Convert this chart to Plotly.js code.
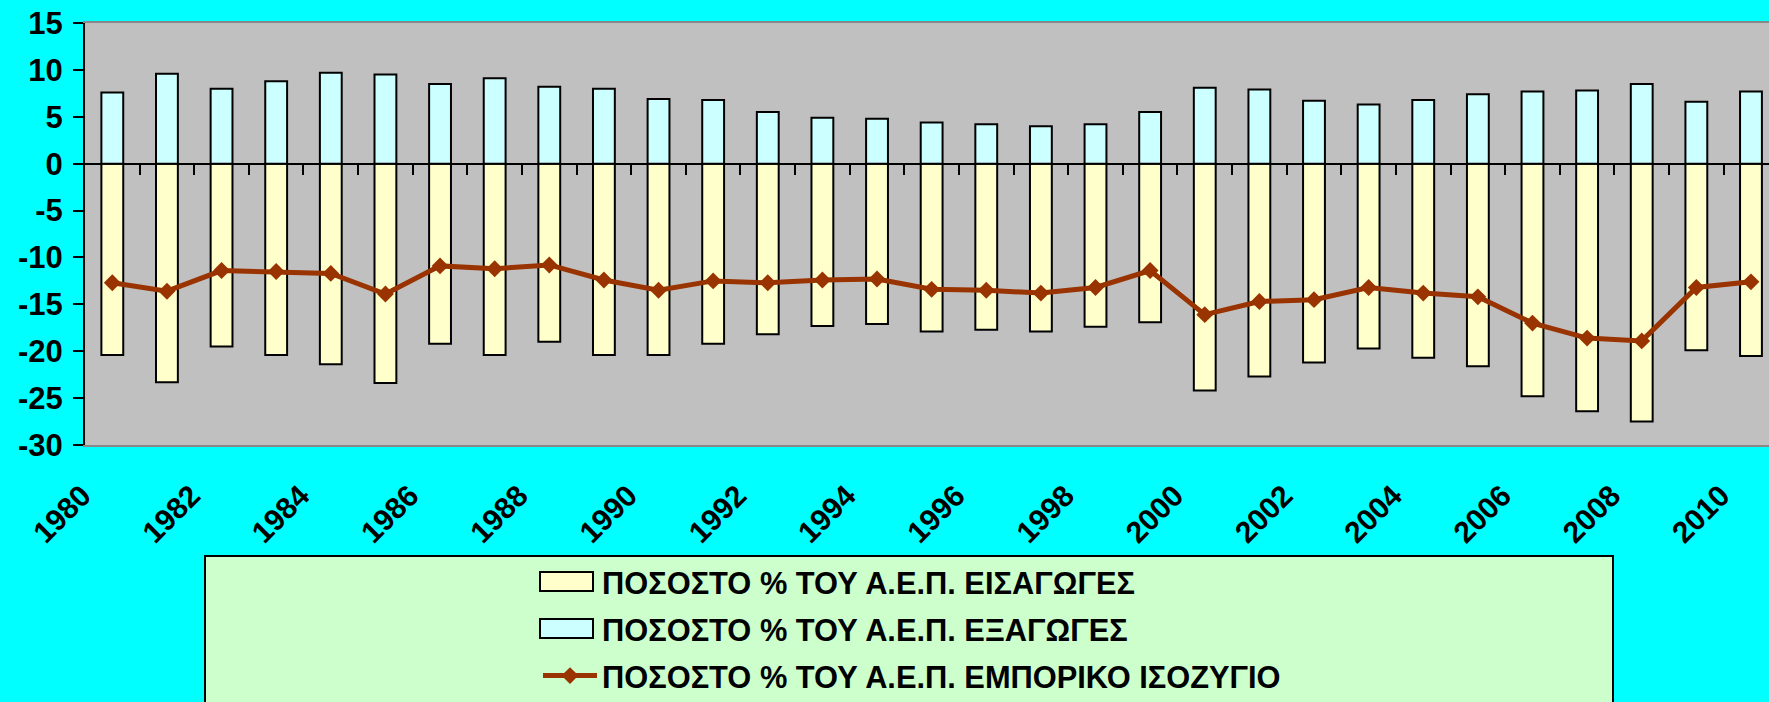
<!DOCTYPE html>
<html>
<head>
<meta charset="utf-8">
<script src="https://cdn.plot.ly/plotly-3.0.1.min.js"></script>
<style>
  html, body { margin: 0; padding: 0; overflow: hidden; background: #00FFFF; }
  #chart { width: 1769px; height: 702px; }
</style>
</head>
<body>
<div id="chart"></div>
<script>
// ---- data ----
const years = [1980,1981,1982,1983,1984,1985,1986,1987,1988,1989,
               1990,1991,1992,1993,1994,1995,1996,1997,1998,1999,
               2000,2001,2002,2003,2004,2005,2006,2007,2008,2009,2010];

const importsPct = [-20.4,-23.3,-19.5,-20.4,-21.4,-23.4,-19.2,-20.4,-19.0,-20.4,
                    -20.4,-19.2,-18.2,-17.3,-17.1,-17.9,-17.7,-17.9,-17.4,-16.9,
                    -24.2,-22.7,-21.2,-19.7,-20.7,-21.6,-24.8,-26.4,-27.5,-19.9,-20.5];

const exportsPct = [7.6,9.6,8.0,8.8,9.7,9.5,8.5,9.1,8.2,8.0,
                    6.9,6.8,5.5,4.9,4.8,4.4,4.2,4.0,4.2,5.5,
                    8.1,7.9,6.7,6.3,6.8,7.4,7.7,7.8,8.5,6.6,7.7];

const balancePct = [-12.7,-13.6,-11.4,-11.5,-11.7,-13.9,-10.9,-11.2,-10.8,-12.4,
                    -13.5,-12.5,-12.7,-12.4,-12.3,-13.4,-13.5,-13.8,-13.2,-11.4,
                    -16.1,-14.7,-14.5,-13.2,-13.8,-14.2,-17.0,-18.6,-18.9,-13.2,-12.6];

const xTickLabels = ['1980','1982','1984','1986','1988','1990','1992','1994',
                     '1996','1998','2000','2002','2004','2006','2008','2010'];

const yTickLabels = ['-30','-25','-20','-15','-10','-5','0','5','10','15'];

const seriesNames = ['ΠΟΣΟΣΤΟ % ΤΟΥ Α.Ε.Π. ΕΙΣΑΓΩΓΕΣ',
                     'ΠΟΣΟΣΤΟ % ΤΟΥ Α.Ε.Π. ΕΞΑΓΩΓΕΣ',
                     'ΠΟΣΟΣΤΟ % ΤΟΥ Α.Ε.Π. ΕΜΠΟΡΙΚΟ ΙΣΟΖΥΓΙΟ'];

// ---- styling ----
const FONT = 'Arial, "Liberation Sans", sans-serif';
const xRange = [1979.5, 2010.33];
const boundaries = years.slice(0, -1).map(y => y + 0.5);

const traces = [
  {
    type: 'bar', x: years, y: importsPct, name: seriesNames[0],
    width: 0.4, legendgroup: 'g1',
    marker: { color: '#FFFFCC', line: { color: '#000000', width: 2 } },
    hoverinfo: 'x+y'
  },
  {
    type: 'bar', x: years, y: exportsPct, name: seriesNames[1],
    width: 0.4, legendgroup: 'g2',
    marker: { color: '#CCFFFF', line: { color: '#000000', width: 2 } },
    hoverinfo: 'x+y'
  },
  {
    type: 'scatter', mode: 'lines+markers', x: years, y: balancePct,
    name: seriesNames[2], xaxis: 'x2', yaxis: 'y', legendgroup: 'g3',
    line: { color: '#993300', width: 5 },
    marker: { symbol: 'diamond', size: 13, color: '#993300' },
    hoverinfo: 'x+y'
  }
];

const layout = {
  width: 1769, height: 702,
  margin: { l: 85, r: 0, t: 23, b: 257, pad: 0, autoexpand: false },
  paper_bgcolor: '#00FFFF',
  plot_bgcolor: '#C0C0C0',
  barmode: 'overlay',
  showlegend: true,
  font: { family: FONT, color: '#000000' },
  xaxis: {
    type: 'linear', range: xRange, automargin: false,
    tickmode: 'array', tickvals: xTickLabels.map(Number), ticktext: xTickLabels,
    ticks: '', tickangle: -45,
    tickfont: { family: FONT, size: 30, weight: 700, color: '#000000' },
    ticklabelstandoff: 19, ticklabelshift: -30,
    showgrid: false, zeroline: false,
    showline: true, linecolor: '#888888', linewidth: 2, mirror: true,
    fixedrange: true
  },
  xaxis2: {
    type: 'linear', range: xRange, overlaying: 'x', automargin: false,
    anchor: 'free', position: 30 / 45, side: 'bottom',
    tickmode: 'array', tickvals: boundaries,
    ticks: 'outside', ticklen: 10, tickwidth: 2, tickcolor: '#000000',
    showticklabels: false, showgrid: false, zeroline: false, showline: false,
    fixedrange: true
  },
  yaxis: {
    range: [-30, 15], automargin: false,
    tickmode: 'array', tickvals: yTickLabels.map(Number), ticktext: yTickLabels,
    ticks: 'outside', ticklen: 10, tickwidth: 2, tickcolor: '#000000',
    tickfont: { family: FONT, size: 31, weight: 700, color: '#000000' },
    ticklabelstandoff: 4,
    showline: true, linecolor: '#000000', linewidth: 2,
    showgrid: false,
    zeroline: true, zerolinecolor: '#000000', zerolinewidth: 2,
    fixedrange: true
  },
  legend: {
    x: (538 - 85) / 1684, xanchor: 'left',
    y: (445 - 555) / 422, yanchor: 'top',
    bgcolor: 'rgba(0,0,0,0)', borderwidth: 0,
    itemwidth: 54, tracegroupgap: 4,
    font: { family: FONT, size: 30.8, weight: 700, color: '#000000' },
    traceorder: 'grouped'
  },
  shapes: [
    {
      type: 'rect', xref: 'paper', yref: 'paper', layer: 'below',
      x0: (205 - 85) / 1684, x1: (1613 - 85) / 1684,
      y0: (445 - 556) / 422, y1: (445 - 720) / 422,
      fillcolor: '#CCFFCC', line: { color: '#000000', width: 2 }
    }
  ]
};

function widenBarSwatches(gd) {
  // Excel-like wide rectangles for the two bar entries of the legend
  const items = gd.querySelectorAll('.legend .traces');
  items.forEach(function (item) {
    const d = item.__data__;
    const trace = d && d[0] && d[0].trace;
    if (!trace || trace.type !== 'bar') return;
    item.querySelectorAll('.legendpoints path').forEach(function (p) {
      p.setAttribute('d', 'M-30,-9.5H23V9.5H-30Z');
    });
  });
}

Plotly.newPlot('chart', traces, layout, { displayModeBar: false, staticPlot: true })
  .then(function (gd) {
    widenBarSwatches(gd);
    gd.on('plotly_afterplot', function () { widenBarSwatches(gd); });
    setTimeout(function () { widenBarSwatches(gd); }, 50);
    setTimeout(function () { widenBarSwatches(gd); }, 300);
  });
</script>
</body>
</html>
